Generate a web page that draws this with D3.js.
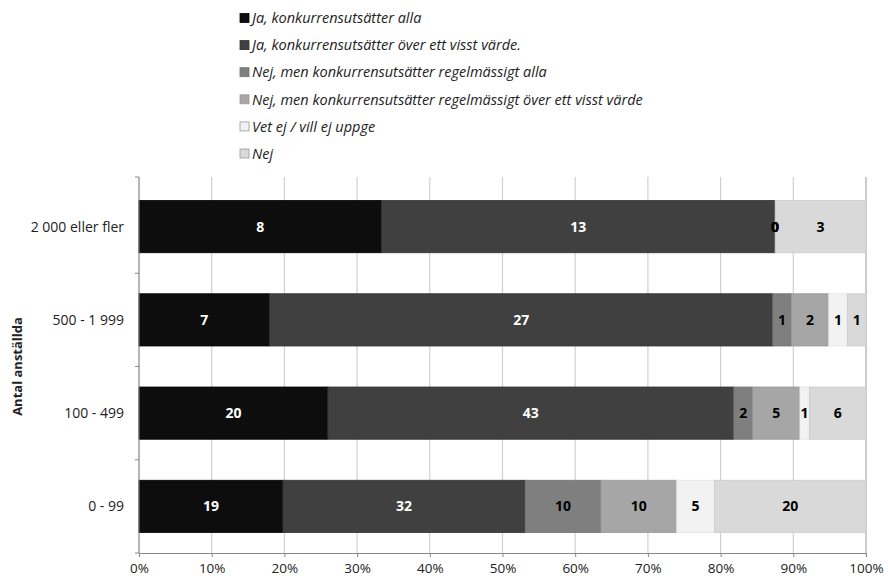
<!DOCTYPE html>
<html>
<head>
<meta charset="utf-8">
<script src="https://cdn.jsdelivr.net/npm/d3@7"></script>
<style>
  html, body { margin: 0; padding: 0; background: #fff; }
  svg text { font-family: "Open Sans", "DejaVu Sans", sans-serif; }
</style>
</head>
<body>
<svg id="chart" width="888" height="579"></svg>
<script>
// Categories (top to bottom)
const categories = ["2 000 eller fler", "500 - 1 999", "100 - 499", "0 - 99"];

// Series names and their counts per category
const seriesNames = [
  "Ja, konkurrensutsätter alla",
  "Ja, konkurrensutsätter över ett visst värde.",
  "Nej, men konkurrensutsätter regelmässigt alla",
  "Nej, men konkurrensutsätter regelmässigt över ett visst värde",
  "Vet ej / vill ej uppge",
  "Nej"
];
const jaAlla       = [8, 7, 20, 19];
const jaVisstVarde = [13, 27, 43, 32];
const nejAlla      = [0, 1, 2, 10];
const nejVisstVarde= [0, 2, 5, 10];
const vetEj        = [0, 1, 1, 5];
const nej          = [3, 1, 6, 20];
const seriesValues = [jaAlla, jaVisstVarde, nejAlla, nejVisstVarde, vetEj, nej];

const xTicks = [0, 0.1, 0.2, 0.3, 0.4, 0.5, 0.6, 0.7, 0.8, 0.9, 1.0];

const fills = ["#0d0d0d", "#404040", "#7f7f7f", "#a6a6a6", "#f2f2f2", "#d9d9d9"];
const strokes = ["#000000", "#303030", "#727272", "#999999", "#e4e4e4", "#cccccc"];
const labelColors = ["#ffffff", "#ffffff", "#000000", "#000000", "#000000", "#000000"];

const svg = d3.select("#chart");

const margin = { left: 139, right: 22, top: 180, bottom: 26 };
const width = 888 - margin.left - margin.right;
const height = 579 - margin.top - margin.bottom;

const g = svg.append("g").attr("transform", `translate(${margin.left},${margin.top})`);

const x = d3.scaleLinear().domain([0, 1]).range([0, width]);
const y = d3.scaleBand().domain(categories).range([0, height]).paddingInner(0.44).paddingOuter(0.22);

// Stack to proportions
const rows = categories.map((c, i) => {
  const row = { category: c };
  seriesValues.forEach((s, k) => { row["s" + k] = s[i]; });
  return row;
});
const keys = seriesNames.map((_, k) => "s" + k);
const stack = d3.stack().keys(keys).offset(d3.stackOffsetExpand);
const layers = stack(rows);

// Vertical gridlines
g.append("g")
  .selectAll("line")
  .data(xTicks)
  .join("line")
  .attr("x1", d => x(d)).attr("x2", d => x(d))
  .attr("y1", -3).attr("y2", height)
  .attr("stroke", d => d === 1 ? "#a8a8a8" : "#d0d0d0").attr("stroke-width", 1.2);

// Bars
layers.forEach((layer, k) => {
  g.append("g")
    .selectAll("rect")
    .data(layer)
    .join("rect")
    .attr("x", d => x(d[0]))
    .attr("y", d => y(d.data.category))
    .attr("width", d => Math.max(0, x(d[1]) - x(d[0])))
    .attr("height", y.bandwidth())
    .attr("fill", fills[k])
    .attr("stroke", strokes[k])
    .attr("stroke-width", 0.8);
});

// Value labels
layers.forEach((layer, k) => {
  g.append("g")
    .selectAll("text")
    .data(layer)
    .join("text")
    .attr("x", d => (x(d[0]) + x(d[1])) / 2)
    .attr("y", d => y(d.data.category) + y.bandwidth() / 2)
    .attr("dy", "0.36em")
    .attr("text-anchor", "middle")
    .attr("font-size", 14)
    .attr("font-weight", "bold")
    .attr("fill", labelColors[k])
    .text(d => d.data["s" + k]);
});

// X axis
const xAxis = g.append("g")
  .attr("transform", `translate(0,${height})`)
  .call(d3.axisBottom(x).tickValues(xTicks).tickFormat(d3.format(".0%")).tickSize(4).tickSizeOuter(0));
xAxis.select(".domain").attr("stroke", "#888");
xAxis.selectAll(".tick line").attr("stroke", "#888");
xAxis.selectAll("text").attr("font-size", 13.5).attr("fill", "#222").attr("dy", "0.95em");

// Y axis with ticks at band boundaries
g.append("line")
  .attr("x1", 0).attr("x2", 0).attr("y1", -3).attr("y2", height)
  .attr("stroke", "#888");
const boundaryY = i => i === 0 ? -3
  : (i === categories.length ? height : y(categories[i]) - y.step() * y.paddingInner() / 2);
g.append("g")
  .selectAll("line")
  .data(d3.range(categories.length + 1))
  .join("line")
  .attr("x1", -4).attr("x2", 0)
  .attr("y1", boundaryY)
  .attr("y2", boundaryY)
  .attr("stroke", "#888");

g.append("g")
  .selectAll("text")
  .data(categories)
  .join("text")
  .attr("x", -15)
  .attr("y", d => y(d) + y.bandwidth() / 2)
  .attr("dy", "0.36em")
  .attr("text-anchor", "end")
  .attr("font-size", 14)
  .attr("fill", "#222")
  .text(d => d);

// Y axis title
svg.append("text")
  .attr("transform", `translate(22,${margin.top + height / 2}) rotate(-90)`)
  .attr("text-anchor", "middle")
  .attr("font-size", 13)
  .attr("font-weight", "bold")
  .attr("fill", "#222")
  .text("Antal anställda");

// Legend
const legend = svg.append("g").attr("transform", "translate(240,18)");
seriesNames.forEach((name, k) => {
  const row = legend.append("g").attr("transform", `translate(0,${k * 27.1})`);
  row.append("rect")
    .attr("x", 0).attr("y", -4.5).attr("width", 9).attr("height", 9)
    .attr("fill", fills[k]).attr("stroke", k >= 4 ? "#9a9a9a" : strokes[k]).attr("stroke-width", 0.8);
  row.append("text")
    .attr("x", 12).attr("y", 0).attr("dy", "0.36em")
    .attr("font-size", 14.5).attr("font-style", "italic")
    .attr("fill", "#222")
    .text(name);
});
</script>
</body>
</html>
